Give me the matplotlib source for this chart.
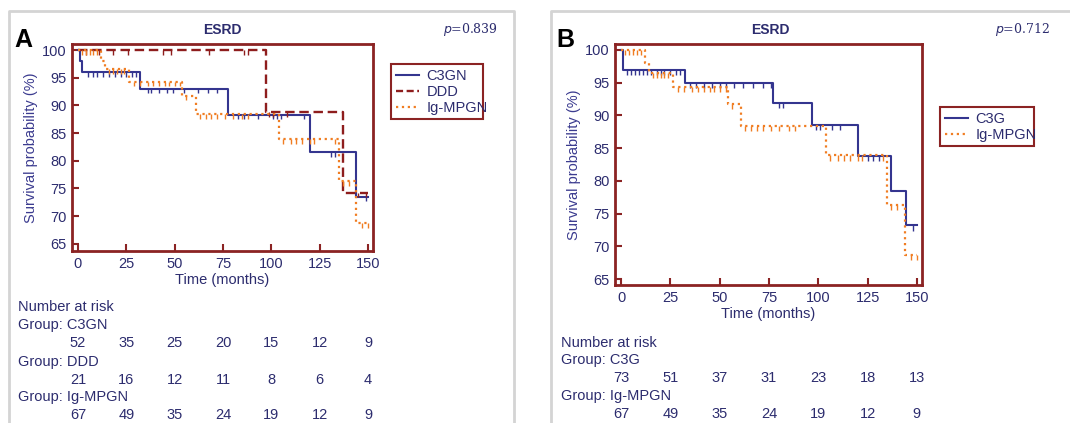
import numpy as np
import matplotlib
matplotlib.use("Agg")
import matplotlib.pyplot as plt
from matplotlib.transforms import blended_transform_factory
from matplotlib.lines import Line2D

plt.rcParams['font.family'] = ['Liberation Sans', 'DejaVu Sans']

# ---- data (step points: time, survival %) ----
# Panel A
c3gn_t = [0, 1, 2, 32, 77.5, 120, 144, 150]
c3gn_s = [100, 98, 96, 93, 88.3, 81.5, 73.5, 73.5]
c3gn_cens = [5, 8, 10, 13, 16, 19, 22, 25, 28, 30, 36, 38, 42, 46, 49, 55, 62, 67, 72,
             83, 86, 93, 101, 103, 105, 117, 131, 133, 149]

ddd_t = [0, 97, 137, 150]
ddd_s = [100, 88.8, 74.2, 74.2]
ddd_cens = [4, 11, 18, 26, 44, 48, 68, 86, 88, 99, 101, 108, 145, 149]

igm_t = [0, 12, 14, 26.5, 54, 61, 104, 135, 144, 150]
igm_s = [100, 98, 96.5, 94.3, 91.7, 88.4, 83.9, 76.3, 68.7, 68.7]
igm_cens = [2, 4, 6, 8, 10, 16, 18, 20, 22, 24, 29, 32, 36, 39, 42, 45, 47, 50, 53, 56,
            63, 66, 69, 72, 76, 80, 85, 88, 106, 110, 113, 116, 120, 122, 133, 137, 140, 147, 150]

# Panel B
c3g_t = [0, 1, 32.6, 77.2, 97, 120.3, 136.7, 144.3, 150]
c3g_s = [100, 97, 95, 91.9, 88.5, 83.8, 78.5, 73.2, 73.2]
c3g_cens = [3, 5, 7, 9, 11, 13, 15, 18, 20, 22, 25, 28, 30, 35, 38, 42, 46, 50, 53, 57, 62,
            67, 72, 76, 80, 82, 99, 101, 107, 111, 125, 128, 131, 148]

risk_times = [0, 25, 50, 75, 100, 125, 150]
risk_a = {'C3GN': [52, 35, 25, 20, 15, 12, 9],
          'DDD': [21, 16, 12, 11, 8, 6, 4],
          'Ig-MPGN': [67, 49, 35, 24, 19, 12, 9]}
risk_b = {'C3G': [73, 51, 37, 31, 23, 18, 13],
          'Ig-MPGN': [67, 49, 35, 24, 19, 12, 9]}

BLUE = '#34358f'
DRED = '#8e1d1d'
ORNG = '#f07d22'
NAVY = '#2c2c6e'
SPINE = '#8b2323'
FS = 10.5


def surv_at(times, surv, x):
    idx = np.searchsorted(times, x, side='right') - 1
    return np.array(surv)[np.clip(idx, 0, len(surv) - 1)]


def km(ax, t, s, cens, color, ls, lw):
    ax.step(t, s, where='post', color=color, ls=ls, lw=lw)
    cs = surv_at(t, s, cens)
    ax.vlines(cens, cs - 0.8, cs, color=color, lw=1.0)


def style_axes(ax, ylim):
    ax.set_xlim(-3.1, 152.6)
    ax.set_ylim(*ylim)
    ax.set_xticks(risk_times)
    ax.set_yticks(range(65, 101, 5))
    for sp in ax.spines.values():
        sp.set_color(SPINE)
        sp.set_linewidth(2)
    ax.tick_params(direction='in', length=5, width=1.5, color=SPINE,
                   labelcolor=NAVY, labelsize=FS, pad=4)
    ax.set_ylabel('Survival probability (%)', color='#3b3b8f', fontsize=10.5, labelpad=3)
    ax.set_xlabel('Time (months)', color=NAVY, fontsize=FS, labelpad=2)


def legend(ax, handles, labels, box):
    leg = ax.legend(handles, labels, loc='upper left',
                    bbox_to_anchor=box, bbox_transform=fig.transFigure, mode='expand',
                    fancybox=False, fontsize=FS, handlelength=1.6, handletextpad=0.5,
                    borderpad=0.3, labelspacing=0.15, framealpha=1)
    leg.get_frame().set_edgecolor(SPINE)
    leg.get_frame().set_linewidth(1.5)
    for tx in leg.get_texts():
        tx.set_color(NAVY)


fig = plt.figure(figsize=(10.7, 4.23), dpi=100)

# panel frames
fig.add_artist(Line2D([9 / 1070, 9 / 1070, 514 / 1070, 514 / 1070], [0, 1 - 11 / 423, 1 - 11 / 423, 0],
                      color='#d4d4d4', lw=2))
fig.add_artist(Line2D([551 / 1070, 551 / 1070, 1070 / 1070], [0, 1 - 11 / 423, 1 - 11 / 423],
                      color='#d4d4d4', lw=2))

# ---- Panel A ----
axA = fig.add_axes([72 / 1070, 1 - 251 / 423, 301 / 1070, 207 / 423])
km(axA, c3gn_t, c3gn_s, c3gn_cens, BLUE, '-', 1.5)
km(axA, ddd_t, ddd_s, ddd_cens, DRED, (0, (4, 2)), 1.7)
km(axA, igm_t, igm_s, igm_cens, ORNG, ':', 1.6)
style_axes(axA, (63.7, 101.1))
legend(axA, [Line2D([], [], color=BLUE, lw=1.5),
             Line2D([], [], color=DRED, ls=(0, (3, 1.5)), lw=1.7),
             Line2D([], [], color=ORNG, ls=':', lw=1.6)],
       ['C3GN', 'DDD', 'Ig-MPGN'], (384 / 1070, 1 - 117 / 423, 106 / 1070, 60 / 423))

fig.text(222 / 1070, 1 - 30 / 423, 'ESRD', ha='center', va='center', fontsize=10,
         fontweight='bold', color=NAVY)
fig.text(14 / 1070, 1 - 40 / 423, 'A', ha='left', va='center', fontsize=18,
         fontweight='bold', color='black')
fig.text(498 / 1070, 1 - 29 / 423, '$p$=0.839', ha='right', va='center', fontsize=9,
         color=NAVY, family='DejaVu Serif')

trA = blended_transform_factory(axA.transData, fig.transFigure)
fig.text(18 / 1070, 1 - 307 / 423, 'Number at risk', ha='left', va='center', fontsize=FS, color=NAVY)
rows_y = [(325, 343), (362, 380), (397, 415)]
for (name, vals), (gy, ny) in zip(risk_a.items(), rows_y):
    fig.text(18 / 1070, 1 - gy / 423, 'Group: ' + name, ha='left', va='center', fontsize=FS, color=NAVY)
    for t, v in zip(risk_times, vals):
        axA.text(t, 1 - ny / 423, str(v), transform=trA, ha='center', va='center',
                 fontsize=FS, color=NAVY)

# ---- Panel B ----
axB = fig.add_axes([615 / 1070, 1 - 285 / 423, 307 / 1070, 241 / 423])
km(axB, c3g_t, c3g_s, c3g_cens, BLUE, '-', 1.5)
km(axB, igm_t, igm_s, igm_cens, ORNG, ':', 1.6)
style_axes(axB, (64.1, 100.9))
legend(axB, [Line2D([], [], color=BLUE, lw=1.5),
             Line2D([], [], color=ORNG, ls=':', lw=1.6)],
       ['C3G', 'Ig-MPGN'], (933 / 1070, 1 - 143 / 423, 108 / 1070, 43 / 423))

fig.text(770 / 1070, 1 - 30 / 423, 'ESRD', ha='center', va='center', fontsize=10,
         fontweight='bold', color=NAVY)
fig.text(556 / 1070, 1 - 40 / 423, 'B', ha='left', va='center', fontsize=18,
         fontweight='bold', color='black')
fig.text(1050 / 1070, 1 - 29 / 423, '$p$=0.712', ha='right', va='center', fontsize=9,
         color=NAVY, family='DejaVu Serif')

trB = blended_transform_factory(axB.transData, fig.transFigure)
fig.text(561 / 1070, 1 - 343 / 423, 'Number at risk', ha='left', va='center', fontsize=FS, color=NAVY)
rows_y = [(360, 378), (396, 414)]
for (name, vals), (gy, ny) in zip(risk_b.items(), rows_y):
    fig.text(561 / 1070, 1 - gy / 423, 'Group: ' + name, ha='left', va='center', fontsize=FS, color=NAVY)
    for t, v in zip(risk_times, vals):
        axB.text(t, 1 - ny / 423, str(v), transform=trB, ha='center', va='center',
                 fontsize=FS, color=NAVY)

fig.savefig('out.png', dpi=100)
